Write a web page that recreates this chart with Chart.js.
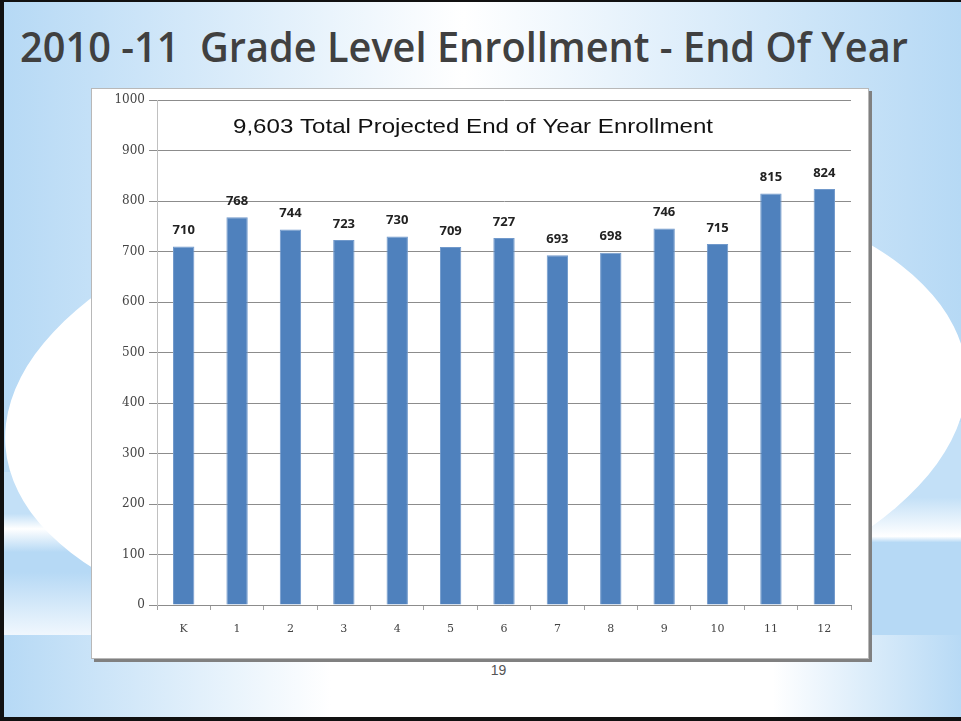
<!DOCTYPE html>
<html lang="en">
<head>
<meta charset="UTF-8">
<title>2010-11 Grade Level Enrollment</title>
<script src="https://cdn.jsdelivr.net/npm/chart.js"></script>
<style>
  html, body { margin: 0; padding: 0; background: #fff; }
  .slide {
    position: relative; width: 961px; height: 721px; overflow: hidden; box-sizing: border-box;
    border-left: 4px solid #111; border-top: 2px solid #111; border-bottom: 4px solid #111;
    background: linear-gradient(90deg, #b6d9f5 0%, #ffffff 48%, #b6d9f5 100%);
  }
  .band-l { position: absolute; left: 0; top: 470px; width: 480px; height: 167px;
    background: linear-gradient(180deg, #c3e0f7 0%, #c3e0f7 25%, #ffffff 34%, #b6d9f5 48%, #b6d9f5 60%, #f4f9fe 100%); }
  .band-r { position: absolute; left: 480px; top: 420px; width: 481px; height: 301px;
    background: linear-gradient(180deg, #c3e0f7 0%, #c3e0f7 25%, #ffffff 38%, #b6d9f5 40%, #b6d9f5 100%); }
  .ellipse { position: absolute; left: 0; top: 172px; width: 964px; height: 470px; border-radius: 50%;
    background: #fff; transform: rotate(-4.5deg); }
  .bottom { position: absolute; left: 0; top: 633px; width: 961px; height: 90px;
    background: linear-gradient(90deg, #b6d9f5 0%, #ffffff 34%, #ffffff 80%, #b6d9f5 100%); }
  .title { position: absolute; left: 16px; top: 23px; white-space: nowrap; transform-origin: 0 0;
    font-family: "Open Sans", sans-serif; font-weight: 600; font-size: 42px; line-height: 1; color: #404040; }
  .box { position: absolute; left: 87px; top: 86px; width: 776px; height: 569px; background: #fff;
    border: 1px solid #b8b8b8; box-shadow: 3px 3px 0 #808080; }
  .page { position: absolute; left: 14px; width: 961px; top: 660px; text-align: center;
    font-family: "Liberation Sans", Arial, sans-serif; font-size: 14px; color: #555; }
</style>
</head>
<body>
<div class="slide">
  <div class="band-l"></div>
  <div class="band-r"></div>
  <div class="ellipse"></div>
  <div class="bottom"></div>
  <div class="title" id="title">2010 -11&nbsp; Grade Level Enrollment - End Of Year</div>
  <div class="box"><canvas id="chart" width="776" height="569"></canvas></div>
  <div class="page">19</div>
</div>
<script>
  // data
  const grades = ['K', '1', '2', '3', '4', '5', '6', '7', '8', '9', '10', '11', '12'];
  const enrollment = [710, 768, 744, 723, 730, 709, 727, 693, 698, 746, 715, 815, 824];
  const yTicks = [0, 100, 200, 300, 400, 500, 600, 700, 800, 900, 1000];
  const totalNote = '9,603 Total Projected End of Year Enrollment';

  // stretch title to the width of the original
  const title = document.getElementById('title');
  title.style.transform = 'scaleX(' + (888 / title.offsetWidth) + ')';

  // value labels above bars + note text
  const labelPlugin = {
    id: 'labels',
    afterDatasetsDraw(chart) {
      const ctx = chart.ctx;
      const meta = chart.getDatasetMeta(0);
      ctx.save();
      ctx.fillStyle = '#222';
      ctx.font = 'bold 13px "Open Sans", sans-serif';
      ctx.textAlign = 'center';
      ctx.textBaseline = 'middle';
      meta.data.forEach((bar, i) => {
        ctx.fillText(enrollment[i], bar.x, bar.y - 16);
      });
      const ca = chart.chartArea;
      ctx.fillStyle = '#111';
      ctx.font = '21px "Liberation Sans", Arial, sans-serif';
      const w = ctx.measureText(totalNote).width;
      ctx.translate(ca.left + 316, ca.top + 27);
      ctx.scale(480 / w, 1);
      ctx.fillText(totalNote, 0, 0);
      ctx.restore();
    }
  };

  new Chart(document.getElementById('chart'), {
    type: 'bar',
    data: {
      labels: grades,
      datasets: [{
        data: enrollment,
        backgroundColor: '#4f81bd',
        borderColor: '#7199cb',
        borderWidth: 1,
        categoryPercentage: 1,
        barPercentage: 0.4
      }]
    },
    options: {
      responsive: false,
      animation: false,
      layout: { padding: { left: 0, right: 17, top: 8, bottom: 0 } },
      plugins: { legend: { display: false }, tooltip: { enabled: false } },
      scales: {
        x: {
          grid: { drawOnChartArea: false, drawTicks: true, tickLength: 5, color: '#a0a0a0', offset: true },
          border: { color: '#8c8c8c' },
          ticks: { color: '#444', padding: 13, font: { family: '"DejaVu Serif", serif', size: 11 } },
          afterFit(scale) { scale.height = 53; }
        },
        y: {
          min: 0, max: 1000,
          afterBuildTicks(scale) { scale.ticks = yTicks.map(v => ({ value: v })); },
          grid: { color: '#8c8c8c', tickLength: 8 },
          border: { color: '#c0c0c0' },
          ticks: { color: '#444', padding: 4, callback: v => String(v), font: { family: '"DejaVu Serif", serif', size: 12 } },
          afterFit(scale) { scale.width = 65; }
        }
      }
    },
    plugins: [labelPlugin]
  });
</script>
</body>
</html>
